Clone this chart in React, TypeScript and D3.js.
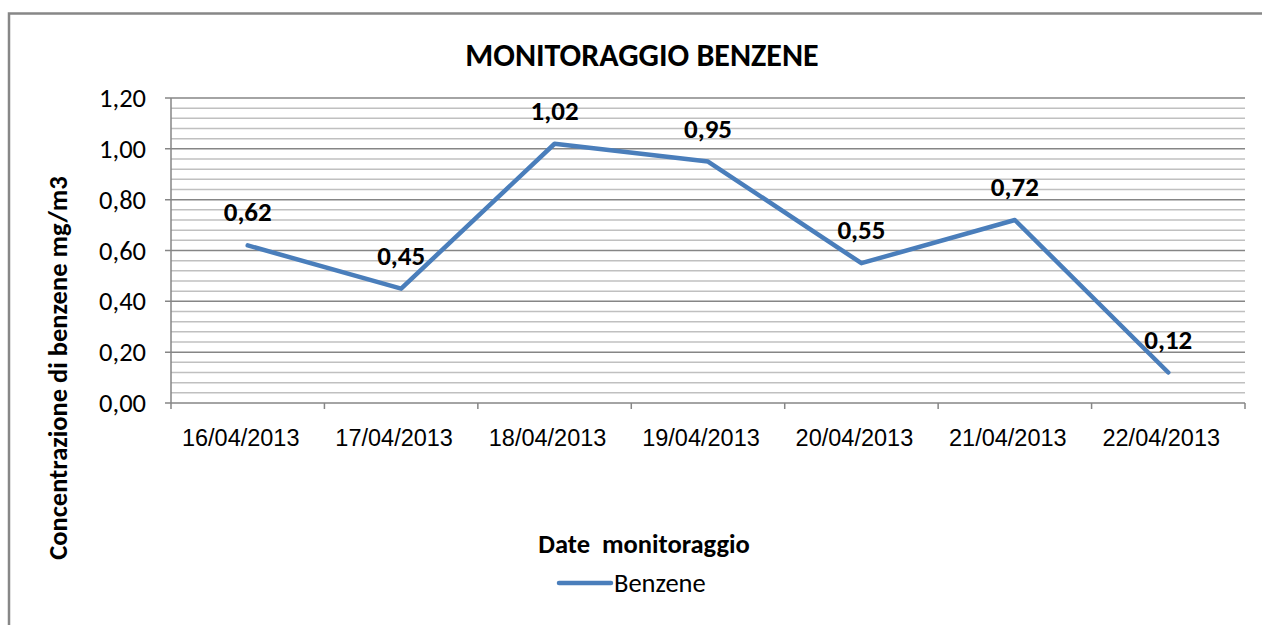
import React from "react";
import * as d3 from "d3";

const categories = ["16/04/2013", "17/04/2013", "18/04/2013", "19/04/2013", "20/04/2013", "21/04/2013", "22/04/2013"];
const benzene = [0.62, 0.45, 1.02, 0.95, 0.55, 0.72, 0.12];
const majorTicks = [0, 0.2, 0.4, 0.6, 0.8, 1.0, 1.2];
const minorTicks = [0.04, 0.08, 0.12, 0.16, 0.24, 0.28, 0.32, 0.36, 0.44, 0.48, 0.52, 0.56, 0.64, 0.68, 0.72, 0.76, 0.84, 0.88, 0.92, 0.96, 1.04, 1.08, 1.12, 1.16];

const W = 1262;
const H = 625;
const left = 171;
const right = 1245;
const top = 98;
const bottom = 403;
const labelFont = "Carlito, Lato, 'Open Sans', sans-serif";
const fmt = (v: number) => v.toFixed(2).replace(".", ",");

export default function App() {
  const x = d3.scaleBand<string>().domain(categories).range([left, right]);
  const y = d3.scaleLinear().domain([0, 1.2]).range([bottom, top]);
  const line = d3
    .line<number>()
    .x((_, i) => (x(categories[i]) as number) + x.bandwidth() / 2)
    .y((d) => y(d));
  const bounds = [...categories.map((c) => x(c) as number), right];

  return (
    <svg width={W} height={H} style={{ position: "absolute", left: 0, top: 0, background: "#fff" }}>
      <rect x={9} y={13.5} width={1300} height={700} fill="#fff" stroke="#878787" strokeWidth={2.5} />
      <text x={642} y={66} textAnchor="middle" fontFamily={labelFont} fontWeight="bold" fontSize={32}>
        MONITORAGGIO BENZENE
      </text>
      {minorTicks.map((t) => (
        <line key={"m" + t} x1={left} x2={right} y1={y(t)} y2={y(t)} stroke="#c0c0c0" strokeWidth={1.5} />
      ))}
      {majorTicks.map((t) => (
        <g key={"M" + t}>
          <line x1={left - 6} x2={right} y1={y(t)} y2={y(t)} stroke="#868686" strokeWidth={1.5} />
          <text x={146} y={y(t) + 9} textAnchor="end" fontFamily={labelFont} fontSize={26.5}>
            {fmt(t)}
          </text>
        </g>
      ))}
      <line x1={left} x2={left} y1={top} y2={bottom} stroke="#868686" strokeWidth={1.5} />
      {bounds.map((b, i) => (
        <line key={"xt" + i} x1={b} x2={b} y1={bottom} y2={bottom + 6} stroke="#868686" strokeWidth={1.5} />
      ))}
      {categories.map((c) => (
        <text key={c} x={(x(c) as number) + x.bandwidth() / 2 - 7} y={446} textAnchor="middle" fontFamily="'Liberation Sans', Arial, sans-serif" fontSize={23.5}>
          {c}
        </text>
      ))}
      <path d={line(benzene) ?? ""} fill="none" stroke="#4a7ebb" strokeWidth={4.5} strokeLinejoin="round" strokeLinecap="round" />
      {benzene.map((v, i) => (
        <text key={"l" + i} x={(x(categories[i]) as number) + x.bandwidth() / 2} y={y(v) - 24} textAnchor="middle" fontFamily={labelFont} fontWeight="bold" fontSize={27}>
          {fmt(v)}
        </text>
      ))}
      <text transform="translate(67,368) rotate(-90)" textAnchor="middle" fontFamily={labelFont} fontWeight="bold" fontSize={26.5}>
        Concentrazione di benzene mg/m3
      </text>
      <text x={644} y={553} textAnchor="middle" fontFamily={labelFont} fontWeight="bold" fontSize={26.5} style={{ whiteSpace: "pre" }}>
        Date  monitoraggio
      </text>
      <line x1={559} x2={611} y1={583} y2={583} stroke="#4a7ebb" strokeWidth={4.5} strokeLinecap="round" />
      <text x={614} y={592} fontFamily={labelFont} fontSize={26.5}>
        Benzene
      </text>
    </svg>
  );
}
